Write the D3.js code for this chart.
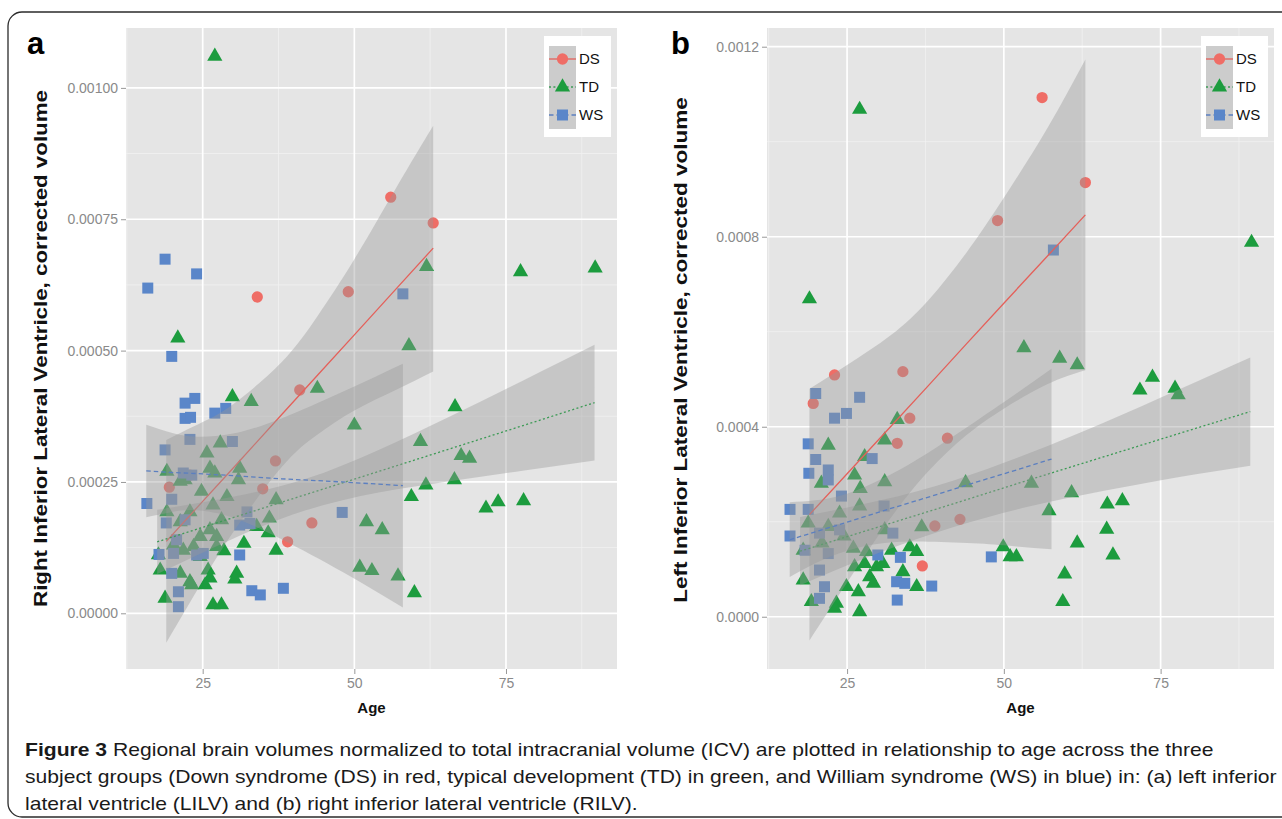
<!DOCTYPE html>
<html>
<head>
<meta charset="utf-8">
<script src="https://cdnjs.cloudflare.com/ajax/libs/d3/7.8.5/d3.min.js"></script>
<style>
  body { margin: 0; background: #fff; }
  svg { display: block; font-family: "Liberation Sans", Arial, sans-serif; }
  .grid-major { stroke: #fff; stroke-width: 1.7; }
  .grid-minor { stroke: #f1f1f1; stroke-width: 0.8; }
  .axis text { fill: #8a8a8a; font-size: 14px; font-family: "Liberation Sans", Arial, sans-serif; }
  .axis line { stroke: #999; }
  .axis path { display: none; }
</style>
</head>
<body>
<svg id="fig" width="1282" height="819"></svg>
<script>
// ---- data ----
var groups = ["DS", "TD", "WS"];
var xTicks = [25, 50, 75];
var xMinor = [12.5, 37.5, 62.5, 87.5];
var aYTicks = [0, 0.00025, 0.0005, 0.00075, 0.001];
var aYMinor = [0.000125, 0.000375, 0.000625, 0.000875];
var bYTicks = [0, 0.0004, 0.0008, 0.0012];
var bYMinor = [0.0002, 0.0006, 0.001];

// panel a : right inferior lateral ventricle  [age, volume]
var aDS = [[19.5,0.000240],[22.9,0.000263],[34.0,0.000602],[34.9,0.000237],[37.0,0.000290],[39.0,0.000136],
  [41.0,0.000425],[43.0,0.000172],[49.0,0.000612],[56.0,0.000792],[63.0,0.000743]];
var aTD = [[27.0,0.00106],[61.9,0.00066],[77.4,0.00065],[89.7,0.000657],[20.9,0.000524],[59.0,0.000509],
  [43.9,0.000428],[29.9,0.000412],[33.0,0.000403],[66.6,0.000393],[50.0,0.000358],[60.9,0.000327],
  [27.9,0.000324],[67.6,0.000300],[69.0,0.000295],[66.5,0.000254],[61.8,0.000244],[59.4,0.000222],
  [71.7,0.000200],[73.7,0.000212],[77.9,0.000214],[52.0,0.000174],[54.6,0.000159],[50.9,0.0000876],
  [52.9,0.0000811],[57.2,0.000071],[59.9,0.000039],[37.1,0.00012],[37.1,0.000216],[36.0,0.000181],
  [31.8,0.000133],[33.9,0.000165],[35.8,0.000153],[28.5,0.000119],[30.6,0.000076],[30.3,0.000065],
  [25.9,0.000082],[26.2,0.000067],[25.4,0.000054],[26.7,0.000016],[28.1,0.000016],[18.8,0.0000286],
  [18.0,0.000082],[17.7,0.000111],[22.9,0.00006],[25.7,0.000305],[19.1,0.00027],[21.3,0.000251],
  [22.1,0.000254],[26.2,0.000276],[27.0,0.000267],[31.1,0.000276],[30.9,0.000254],[29.0,0.000222],
  [24.8,0.000232],[19.1,0.000193],[22.9,0.000193],[26.7,0.000206],[28.1,0.000178],[21.3,0.000174],
  [26.2,0.000159],[27.3,0.000146],[24.6,0.000146],[23.5,0.000127],[21.8,0.00012],[20.2,0.00013],
  [24.6,0.000108],[27.3,0.000127],[21.3,0.000076],[23.2,0.000054]];
var aWS = [[15.95,0.000619],[18.8,0.000674],[24.0,0.000646],[58.0,0.000608],[19.9,0.000489],[22.1,0.0004],
  [23.7,0.000409],[22.1,0.000371],[23.0,0.000373],[27.0,0.000381],[28.8,0.00039],[18.8,0.000311],
  [22.9,0.000331],[29.9,0.000327],[21.8,0.000267],[23.2,0.000263],[15.8,0.000209],[19.9,0.000217],
  [19.0,0.000172],[22.1,0.000178],[32.3,0.000193],[31.1,0.000168],[32.8,0.000171],[48.0,0.000192],
  [20.7,0.00014],[20.2,0.000114],[24.0,0.000111],[25.1,0.000114],[31.1,0.000111],[19.9,0.000076],
  [21.0,0.000041],[21.0,0.0000126],[33.1,0.000043],[34.5,0.000035],[38.3,0.0000476],[17.8,0.000112]];

// panel a fitted lines with 95% band  [age, fit, lower, upper]
var aDSFit = [[19,0.000137,-0.000056,0.000330],[25,0.000213,0.000062,0.000364],[30,0.000276,0.000154,0.000398],
  [38,0.000378,0.000278,0.000478],[44,0.000454,0.000341,0.000567],[50,0.00053,0.000386,0.000674],
  [57,0.000619,0.000426,0.000812],[63,0.000695,0.000460,0.000928]];
var aTDFit = [[17.5,0.000136,0.0000746,0.000197],[30,0.000182,0.000142,0.000222],[42,0.000226,0.000196,0.000256],
  [54,0.000270,0.00023,0.000311],[66,0.000314,0.000252,0.000376],[78,0.000358,0.000272,0.000444],
  [89.6,0.000401,0.000291,0.000511]];
var aWSFit = [[15.7,0.000271,0.000183,0.000359],[20,0.000268,0.000193,0.000343],[24,0.000266,0.000196,0.000336],
  [30,0.000262,0.000182,0.000342],[38,0.000256,0.000141,0.000371],[48,0.00025,0.000079,0.000421],
  [58,0.000243,0.000011,0.000475]];

// panel b : left inferior lateral ventricle
var bDS = [[19.6,0.000449],[23.0,0.000509],[33.0,0.000365],[33.9,0.000516],[35.0,0.000418],[37.0,0.000107],
  [39.0,0.000191],[41.0,0.000376],[43.0,0.000205],[49.0,0.000834],[56.1,0.001093],[63.0,0.000914]];
var bTD = [[27.0,0.001068],[19.0,0.000669],[89.5,0.000788],[53.2,0.000566],[58.9,0.000544],[61.7,0.00053],
  [73.7,0.000504],[71.7,0.000477],[77.3,0.000481],[77.8,0.000467],[54.4,0.000281],[60.8,0.000261],
  [57.2,0.000223],[66.5,0.000237],[68.9,0.000244],[66.4,0.000184],[61.7,0.000155],[67.4,0.00013],
  [59.7,0.00009],[59.4,0.0000316],[33.0,0.000415],[31.0,0.000372],[22.0,0.000361],[27.8,0.000337],
  [20.9,0.000281],[26.2,0.000298],[27.1,0.00027],[31.0,0.000284],[43.9,0.000282],[27.0,0.000233],
  [23.8,0.000218],[18.8,0.000197],[36.9,0.000189],[31.0,0.000183],[18.0,0.00014],[18.0,0.0000773],
  [19.3,0.0000316],[23.3,0.0000282],[23.0,0.0000177],[27.0,0.0000105],[24.9,0.0000632],[26.8,0.0000526],
  [26.2,0.000105],[27.8,0.000112],[28.6,0.0000842],[29.2,0.0000703],[29.7,0.000105],[30.7,0.000112],
  [32.1,0.00014],[35.0,0.000147],[36.1,0.000137],[33.9,0.0000947],[36.1,0.0000632],[28.1,0.000137],
  [26.0,0.000144],[49.9,0.000147],[51.0,0.000126],[52.0,0.000126],[22.0,0.00019],[24.5,0.00017],
  [21.0,0.000155]];
var bWS = [[57.9,0.000772],[20.0,0.00047],[27.0,0.000462],[23.0,0.000418],[24.9,0.000428],[18.8,0.000364],
  [20.0,0.000331],[22.0,0.000309],[18.9,0.000302],[22.0,0.000288],[29.0,0.000333],[24.1,0.000254],
  [15.9,0.000226],[18.8,0.000226],[30.9,0.000233],[15.9,0.00017],[32.3,0.000176],[18.3,0.00014],
  [20.6,0.000176],[22.0,0.000133],[20.6,0.0000983],[21.4,0.0000632],[20.6,0.0000387],[23.8,0.000183],
  [29.9,0.00013],[33.5,0.000125],[32.9,0.0000737],[34.2,0.0000703],[38.5,0.0000646],[33.0,0.0000351],
  [48.0,0.000126]];

var bDSFit = [[19,0.000215,-0.00005,0.00048],[25,0.000301,0.000072,0.00053],[32,0.000401,0.000209,0.000593],
  [38,0.000487,0.000307,0.000667],[44,0.000574,0.000382,0.000766],[50,0.00066,0.000438,0.000882],
  [57,0.00076,0.00049,0.00103],[63,0.000846,0.000519,0.001173]];
var bTDFit = [[17.5,0.000138,0.0000664,0.00021],[30,0.000189,0.000134,0.000244],[42,0.000238,0.000189,0.000287],
  [54,0.000288,0.000232,0.000344],[66,0.000337,0.000265,0.000409],[78,0.000386,0.000294,0.000479],
  [89.3,0.000432,0.000318,0.000546]];
var bWSFit = [[15.85,0.000162,0.0000835,0.000241],[20,0.000179,0.000113,0.000245],[25,0.000199,0.000139,0.000259],
  [31,0.000224,0.000155,0.000293],[38,0.000252,0.000158,0.000346],[46,0.000285,0.000154,0.000416],
  [52,0.000309,0.000148,0.00047],[57.6,0.000332,0.000142,0.000522]];

var caption = [
  [["Figure 3", "bold"], [" Regional brain volumes normalized to total intracranial volume (ICV) are plotted in relationship to age across the three", "normal"]],
  [["subject groups (Down syndrome (DS) in red, typical development (TD) in green, and William syndrome (WS) in blue) in: (a) left inferior", "normal"]],
  [["lateral ventricle (LILV) and (b) right inferior lateral ventricle (RILV).", "normal"]]
];

// ---- styles ----
var colors = { DS: "#ef6d66", TD: "#1c9c3e", WS: "#5a86c9" };
var lineColors = { DS: "#e4605a", TD: "#3c9a55", WS: "#5b7fc0" };
var dashes = { DS: null, TD: "2,2.4", WS: "4.5,3" };
var shapes = { DS: d3.symbolCircle, TD: d3.symbolTriangle, WS: d3.symbolSquare };
var sizes = { DS: 100, TD: 100, WS: 121 };

var svg = d3.select("#fig");

// outer frame
svg.append("rect")
  .attr("x", 8).attr("y", 12).attr("width", 1300).attr("height", 805).attr("rx", 14)
  .attr("fill", "none").attr("stroke", "#2b2b2b").attr("stroke-width", 1.3);

var panels = [
  { letter: "a", letterX: 27, left: 126, right: 617, top: 28, bottom: 669,
    xDomain: [12.36, 93.3], yDomain: [-0.000106, 0.001114], yTicks: aYTicks, yMinor: aYMinor, fmt: ".5f",
    pts: { DS: aDS, TD: aTD, WS: aWS }, fits: { DS: aDSFit, TD: aTDFit, WS: aWSFit },
    title: "Right Inferior Lateral Ventricle, corrected volume", titleX: 47, titleY: 348.5, titleLen: 517 },
  { letter: "b", letterX: 671, left: 767, right: 1274, top: 28, bottom: 669,
    xDomain: [12.23, 93.08], yDomain: [-0.00011, 0.0012394], yTicks: bYTicks, yMinor: bYMinor, fmt: ".4f",
    pts: { DS: bDS, TD: bTD, WS: bWS }, fits: { DS: bDSFit, TD: bTDFit, WS: bWSFit },
    title: "Left Inferior Lateral Ventricle, corrected volume", titleX: 687, titleY: 350, titleLen: 506 }
];

panels.forEach(drawPanel);

function drawPanel(p) {
  var x = d3.scaleLinear().domain(p.xDomain).range([p.left, p.right]);
  var y = d3.scaleLinear().domain(p.yDomain).range([p.bottom, p.top]);
  var g = svg.append("g");

  g.append("rect").attr("x", p.left).attr("y", p.top)
    .attr("width", p.right - p.left).attr("height", p.bottom - p.top).attr("fill", "#e5e5e5");

  // grid
  g.selectAll(".vminor").data(xMinor).enter().append("line").attr("class", "grid-minor")
    .attr("x1", x).attr("x2", x).attr("y1", p.top).attr("y2", p.bottom);
  g.selectAll(".hminor").data(p.yMinor).enter().append("line").attr("class", "grid-minor")
    .attr("x1", p.left).attr("x2", p.right).attr("y1", y).attr("y2", y);
  g.selectAll(".vmajor").data(xTicks).enter().append("line").attr("class", "grid-major")
    .attr("x1", x).attr("x2", x).attr("y1", p.top).attr("y2", p.bottom);
  g.selectAll(".hmajor").data(p.yTicks).enter().append("line").attr("class", "grid-major")
    .attr("x1", p.left).attr("x2", p.right).attr("y1", y).attr("y2", y);

  // points
  groups.forEach(function(k) {
    g.append("g").selectAll("path").data(p.pts[k]).enter().append("path")
      .attr("d", d3.symbol().type(shapes[k]).size(sizes[k]))
      .attr("transform", function(d) { return "translate(" + x(d[0]) + "," + y(d[1]) + ")"; })
      .attr("fill", colors[k]);
  });

  // smooths: band then line, per group
  var area = d3.area().x(function(d) { return x(d[0]); })
    .y0(function(d) { return y(d[2]); }).y1(function(d) { return y(d[3]); })
    .curve(d3.curveNatural);
  var line = d3.line().x(function(d) { return x(d[0]); }).y(function(d) { return y(d[1]); });
  groups.forEach(function(k) {
    g.append("path").attr("d", area(p.fits[k])).attr("fill", "#999").attr("fill-opacity", 0.4);
    g.append("path").attr("d", line(p.fits[k])).attr("fill", "none")
      .attr("stroke", lineColors[k]).attr("stroke-width", 1.3)
      .attr("stroke-dasharray", dashes[k]);
  });

  // axes
  g.append("g").attr("class", "axis").attr("transform", "translate(" + p.left + ",0)")
    .call(d3.axisLeft(y).tickValues(p.yTicks).tickFormat(d3.format(p.fmt)).tickSize(5).tickPadding(3));
  g.append("g").attr("class", "axis").attr("transform", "translate(0," + p.bottom + ")")
    .call(d3.axisBottom(x).tickValues(xTicks).tickSize(5).tickPadding(4));

  // legend
  var lg = g.append("g").attr("transform", "translate(" + (p.right - 73) + ",36)");
  lg.append("rect").attr("width", 67).attr("height", 101).attr("fill", "#fff");
  lg.append("rect").attr("x", 5).attr("y", 10).attr("width", 27).attr("height", 83)
    .attr("fill", "#999").attr("fill-opacity", 0.5);
  groups.forEach(function(k, i) {
    var ky = 23 + i * 28;
    lg.append("line").attr("x1", 5).attr("x2", 32).attr("y1", ky).attr("y2", ky)
      .attr("stroke", lineColors[k]).attr("stroke-width", 1.3).attr("stroke-dasharray", dashes[k]);
    lg.append("path").attr("d", d3.symbol().type(shapes[k]).size(sizes[k]))
      .attr("transform", "translate(18.5," + ky + ")").attr("fill", colors[k]);
    lg.append("text").attr("x", 35).attr("y", ky + 5).attr("font-size", 15)
      .attr("fill", "#111").text(k);
  });

  // panel letter
  svg.append("text").attr("x", p.letterX).attr("y", 54).attr("font-size", 31)
    .attr("font-weight", "bold").attr("fill", "#000").text(p.letter);

  // axis titles
  var t = svg.append("text").attr("text-anchor", "middle").attr("font-size", 19)
    .attr("font-weight", "bold").attr("fill", "#111").text(p.title);
  var w = t.node().getComputedTextLength();
  t.attr("transform", "translate(" + p.titleX + "," + p.titleY + ") rotate(-90) scale(" + (p.titleLen / w) + ",1)");

  svg.append("text").attr("x", (p.left + p.right) / 2).attr("y", 713)
    .attr("text-anchor", "middle").attr("font-size", 15).attr("font-weight", "bold")
    .attr("fill", "#111").text("Age");
}

// caption: one common horizontal squeeze so the second line spans the frame
var capBase = [756, 783, 810];
var capNodes = caption.map(function(parts, i) {
  var t = svg.append("text").attr("font-size", 19).attr("fill", "#1a1a1a");
  parts.forEach(function(s) {
    t.append("tspan").attr("font-weight", s[1]).text(s[0]);
  });
  return t;
});
var capScale = 1252 / capNodes[1].node().getComputedTextLength();
capNodes.forEach(function(t, i) {
  t.attr("transform", "translate(25," + capBase[i] + ") scale(" + capScale + ",1)");
});
</script>
</body>
</html>
